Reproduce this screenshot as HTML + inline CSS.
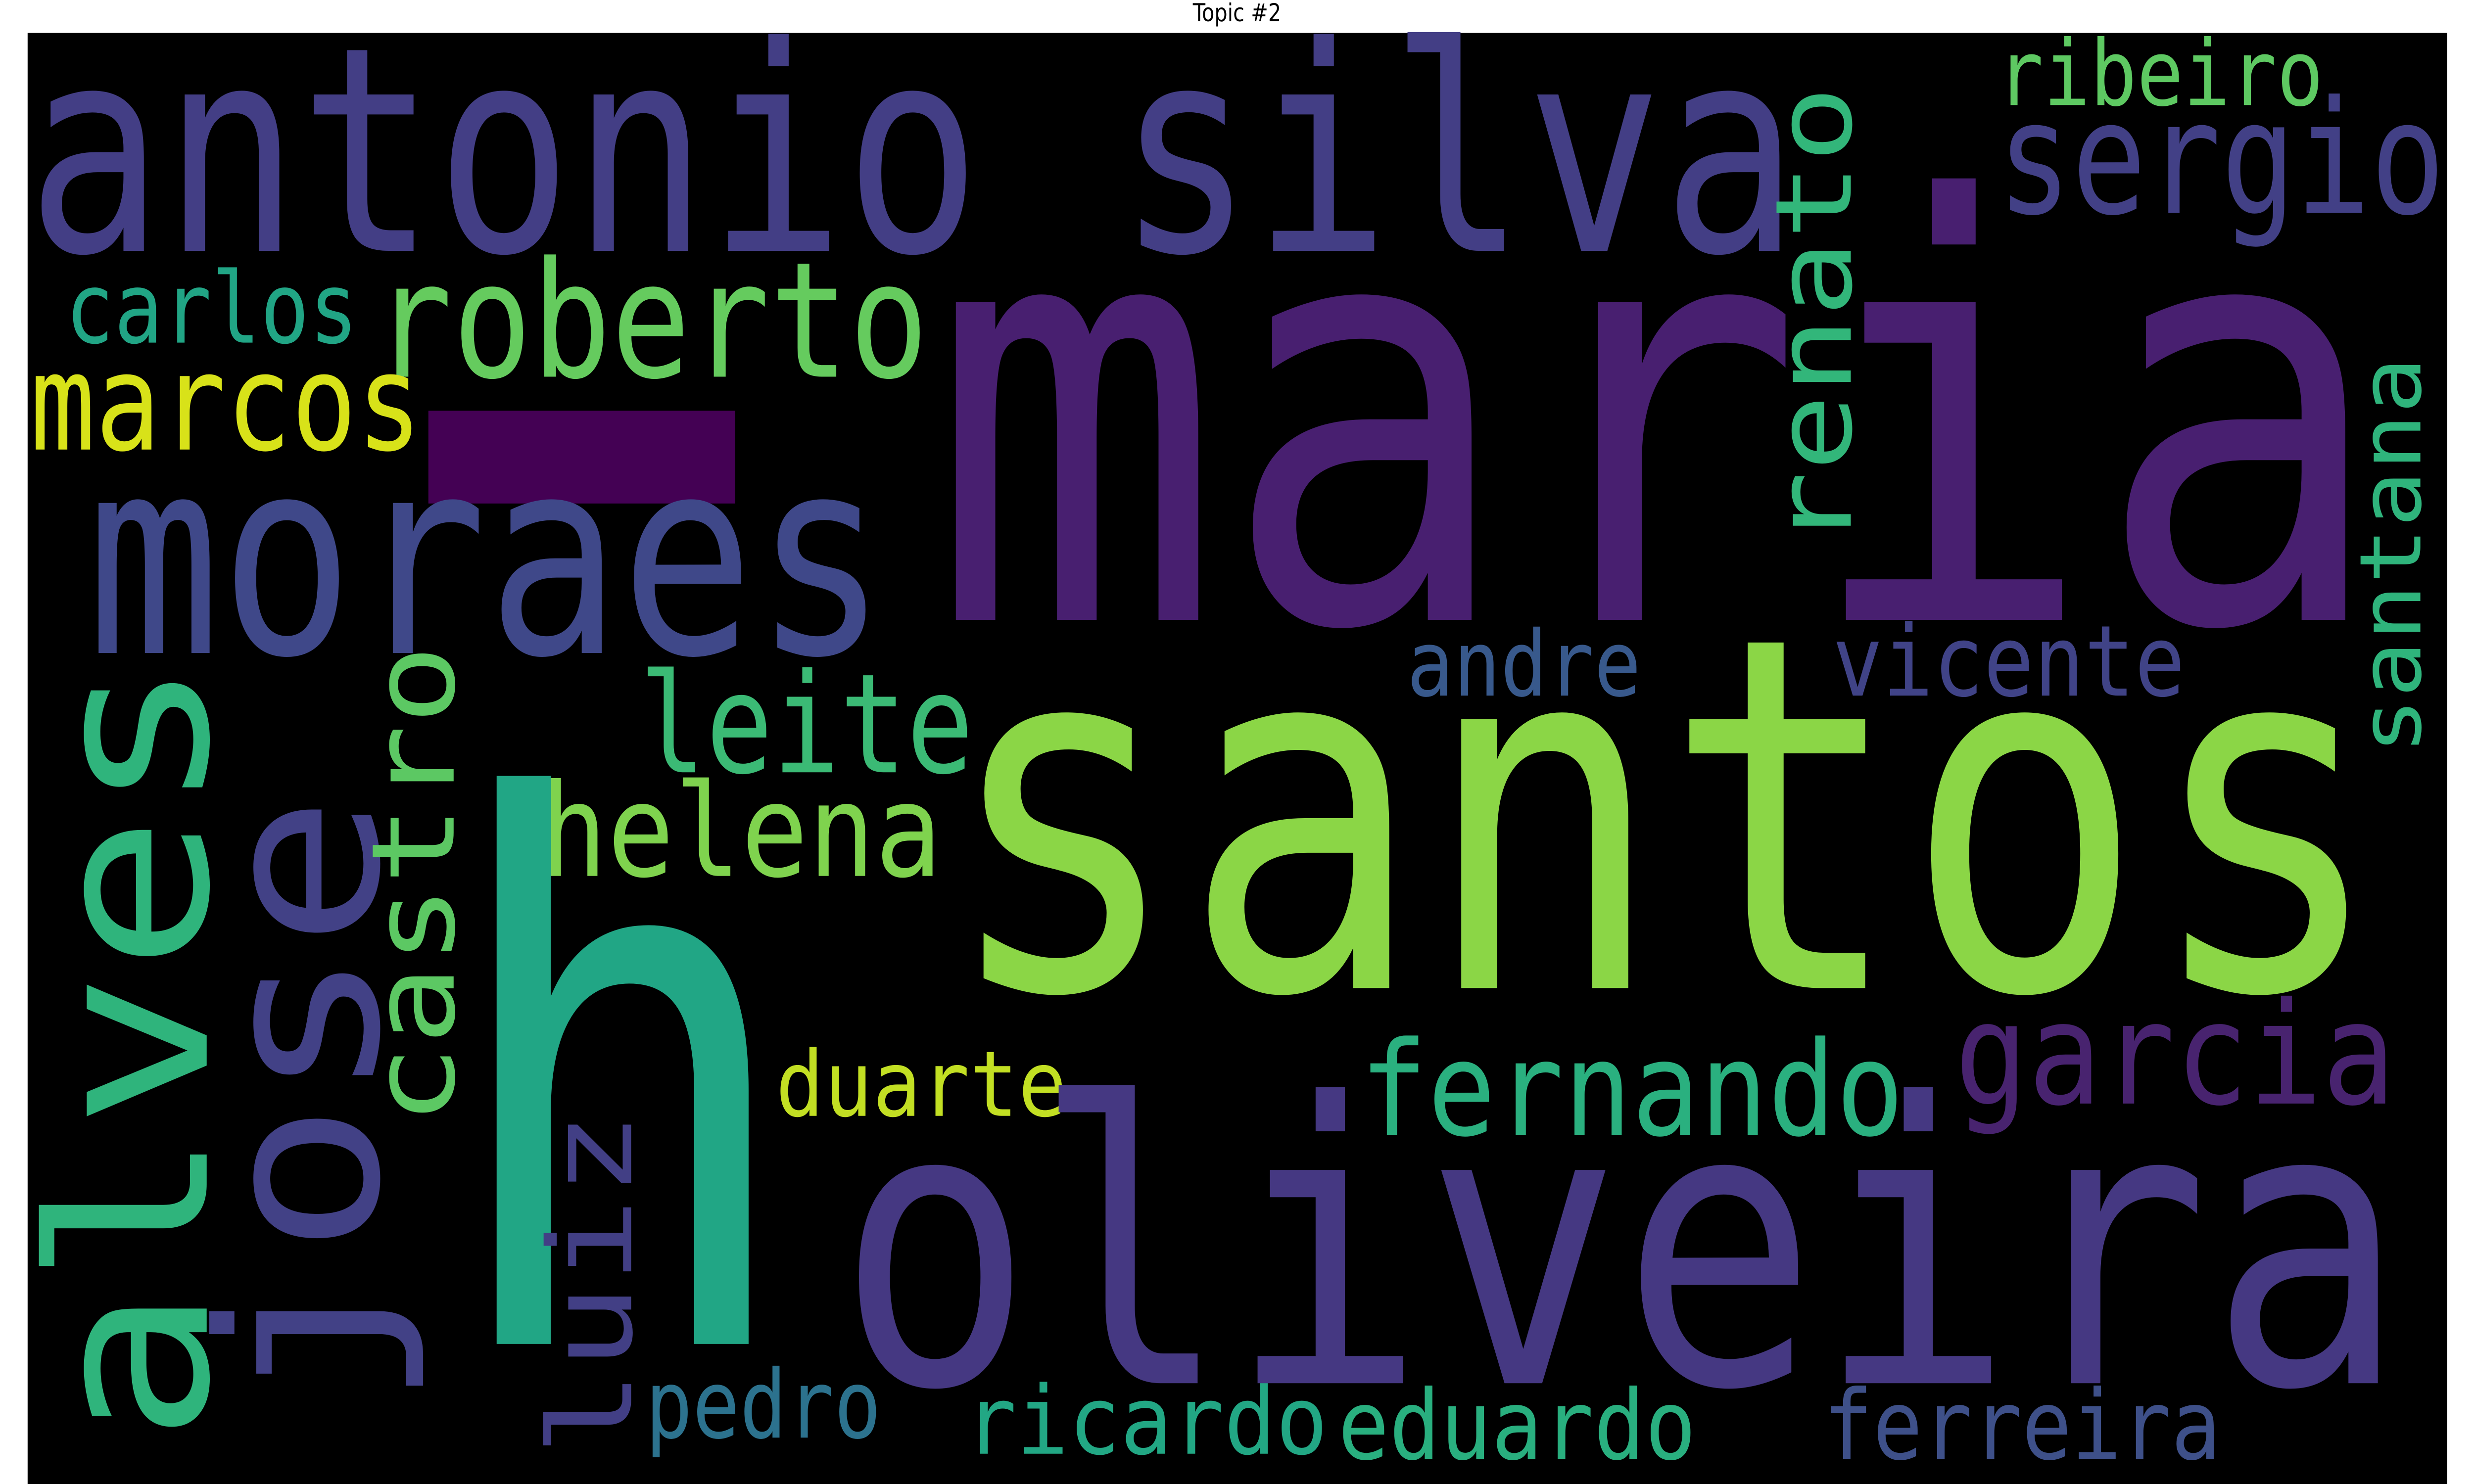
<!DOCTYPE html>
<html>
<head>
<meta charset="utf-8">
<style>
html,body{margin:0;padding:0;background:#fff;width:100vw;height:100vh;overflow:hidden;}
svg{display:block;position:fixed;left:0;top:0;width:100vw;height:100vh;}
.w{font-family:"DejaVu Sans Mono","Liberation Mono",monospace;}
</style>
</head>
<body>
<svg viewBox="0 0 1568 784" preserveAspectRatio="none" xmlns="http://www.w3.org/2000/svg">
<rect x="0" y="0" width="1568" height="784" fill="#ffffff"/>
<text x="784" y="11.2" text-anchor="middle" font-family="DejaVu Sans, Liberation Sans, sans-serif" font-size="13" fill="#000">Topic #2</text>
<rect x="17.5" y="17.4" width="1533.5" height="767" fill="#000000"/>
<g class="w">
<text x="17" y="132.5" font-size="151" textLength="1123" lengthAdjust="spacingAndGlyphs" fill="#433e85">antonio silva</text>
<text x="589.5" y="327.5" font-size="307" textLength="923" lengthAdjust="spacingAndGlyphs" fill="#481f70">maria</text>
<text x="236.5" y="199" font-size="85" textLength="352" lengthAdjust="spacingAndGlyphs" fill="#65cb5e">roberto</text>
<text x="41.4" y="181" font-size="52" textLength="185.5" lengthAdjust="spacingAndGlyphs" fill="#21a585">carlos</text>
<text x="19" y="237.5" font-size="71" textLength="248.5" lengthAdjust="spacingAndGlyphs" fill="#d8e219">marcos</text>
<rect x="271.5" y="217" width="194.5" height="49" fill="#440154"/>
<text x="55" y="345" font-size="145" textLength="507.5" lengthAdjust="spacingAndGlyphs" fill="#3f4889">moraes</text>
<text x="405" y="408" font-size="73" textLength="212" lengthAdjust="spacingAndGlyphs" fill="#3bba75">leite</text>
<text x="342.5" y="462.75" font-size="68" textLength="254.5" lengthAdjust="spacingAndGlyphs" fill="#7fd34e">helena</text>
<text x="491.6" y="589.5" font-size="48" textLength="184.5" lengthAdjust="spacingAndGlyphs" fill="#c2df23">duarte</text>
<text x="409" y="759.5" font-size="50" textLength="149.5" lengthAdjust="spacingAndGlyphs" fill="#2c728e">pedro</text>
<text x="611.5" y="768" font-size="50" textLength="230" lengthAdjust="spacingAndGlyphs" fill="#22a784">ricardo</text>
<text x="848" y="770.75" font-size="51" textLength="227" lengthAdjust="spacingAndGlyphs" fill="#29af7f">eduardo</text>
<text x="1155.5" y="770.75" font-size="51" textLength="252" lengthAdjust="spacingAndGlyphs" fill="#3e5089">ferreira</text>
<text x="861.7" y="599.5" font-size="69" textLength="345" lengthAdjust="spacingAndGlyphs" fill="#2ab07f">fernando</text>
<text x="1238.8" y="583" font-size="75" textLength="279.5" lengthAdjust="spacingAndGlyphs" fill="#48236f">garcia</text>
<text x="530.6" y="730.75" font-size="206" textLength="994" lengthAdjust="spacingAndGlyphs" fill="#453882">oliveira</text>
<text x="597" y="522" font-size="260" textLength="915" lengthAdjust="spacingAndGlyphs" fill="#8bd646">santos</text>
<text x="1265.7" y="112.5" font-size="83" textLength="284" lengthAdjust="spacingAndGlyphs" fill="#424086">sergio</text>
<text x="1265.6" y="55.5" font-size="48" textLength="207" lengthAdjust="spacingAndGlyphs" fill="#5ec962">ribeiro</text>
<text x="891.6" y="367.5" font-size="48" textLength="148.5" lengthAdjust="spacingAndGlyphs" fill="#38598c">andre</text>
<text x="1161.4" y="367.5" font-size="52" textLength="223.5" lengthAdjust="spacingAndGlyphs" fill="#404387">vicente</text>
<text x="278.4" y="710" font-size="395" textLength="230" lengthAdjust="spacingAndGlyphs" fill="#21a685">h</text>
<text transform="translate(131 762.7) rotate(-90)" x="0" y="0" font-size="139" textLength="415.5" lengthAdjust="spacingAndGlyphs" fill="#2fb47c">alves</text>
<text transform="translate(239 744.3) rotate(-90)" x="0" y="0" font-size="140" textLength="324.6" lengthAdjust="spacingAndGlyphs" fill="#424186">jose</text>
<text transform="translate(287.5 594.5) rotate(-90)" x="0" y="0" font-size="73" textLength="254" lengthAdjust="spacingAndGlyphs" fill="#5cc863">castro</text>
<text transform="translate(400 769.5) rotate(-90)" x="0" y="0" font-size="73" textLength="182.5" lengthAdjust="spacingAndGlyphs" fill="#423f85">luiz</text>
<text transform="translate(1173 289.7) rotate(-90)" x="0" y="0" font-size="67" textLength="244.4" lengthAdjust="spacingAndGlyphs" fill="#32b67a">renato</text>
<text transform="translate(1534 398.6) rotate(-90)" x="0" y="0" font-size="54" textLength="210" lengthAdjust="spacingAndGlyphs" fill="#2fb47c">santana</text>
</g>
</svg>
</body>
</html>
